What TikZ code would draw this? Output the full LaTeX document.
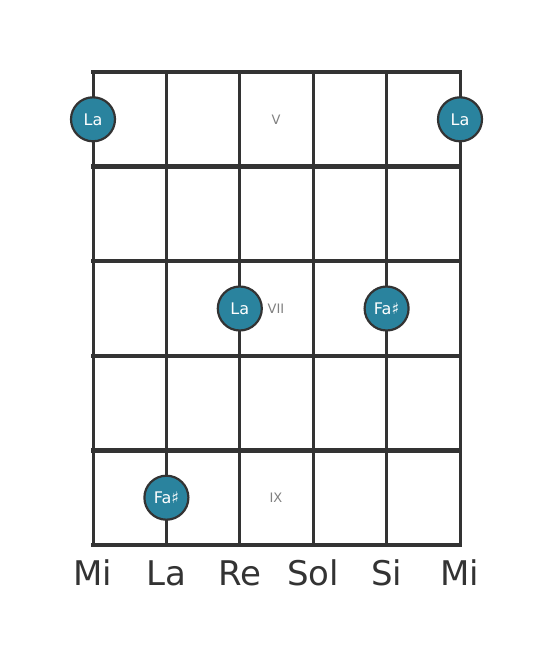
\documentclass[tikz,border=0pt]{standalone}
\usepackage{fontspec}
\setmainfont{DejaVu Sans}
\usepackage{tikz}
\usetikzlibrary{positioning}
\definecolor{gridgray}{HTML}{333333}
\definecolor{notefill}{HTML}{2A839E}

\begin{document}
\begin{tikzpicture}[
		x=1pt, y=-1pt,
		fret/.style={draw=gridgray, line width=4.5pt},
		string/.style={draw=gridgray, line width=3pt},
		note/.style={circle, draw=gridgray, line width=2.2pt, fill=notefill, minimum size=44pt, inner sep=0pt, text=white, font=\fontsize{16}{18}\selectfont},
		fretnum/.style={text=gray, font=\fontsize{13}{15}\selectfont},
		strname/.style={text=gridgray, font=\fontsize{34}{40}\selectfont}
	]
		\useasboundingbox (0,0) rectangle (553,656);
		
		% strings and frets
		\foreach \x in {93,166.4,239.8,313.2,386.6,460}
			\draw[string] (\x,72) -- (\x,545);
		\foreach \y in {72,166.6,261.2,355.8,450.4,545}
			\draw[fret] (91,\y) -- (462,\y);
		
		% fret numbers
		\node[fretnum](v) at (276,120){V};
		\node[fretnum](vii) at (276,308.5){VII};
		\node[fretnum](ix) at (276,497.5){IX};
		
		% notes
		\node[note](la-1) at (93,119.3){La};
		\node[note](la-2) at (460,119.3){La};
		\node[note](la-3) at (239.8,308.5){La};
		\node[note](fa-1) at (386.6,308.5){Fa♯};
		\node[note](fa-2) at (166.4,497.7){Fa♯};
		
		% string names
		\node[strname](mi-1) at (93,573){Mi};
		\node[strname](la) at (166.4,573){La};
		\node[strname](re) at (239.8,573){Re};
		\node[strname](sol) at (313.2,573){Sol};
		\node[strname](si) at (386.6,573){Si};
		\node[strname](mi-2) at (460,573){Mi};
	\end{tikzpicture}
\end{document}
